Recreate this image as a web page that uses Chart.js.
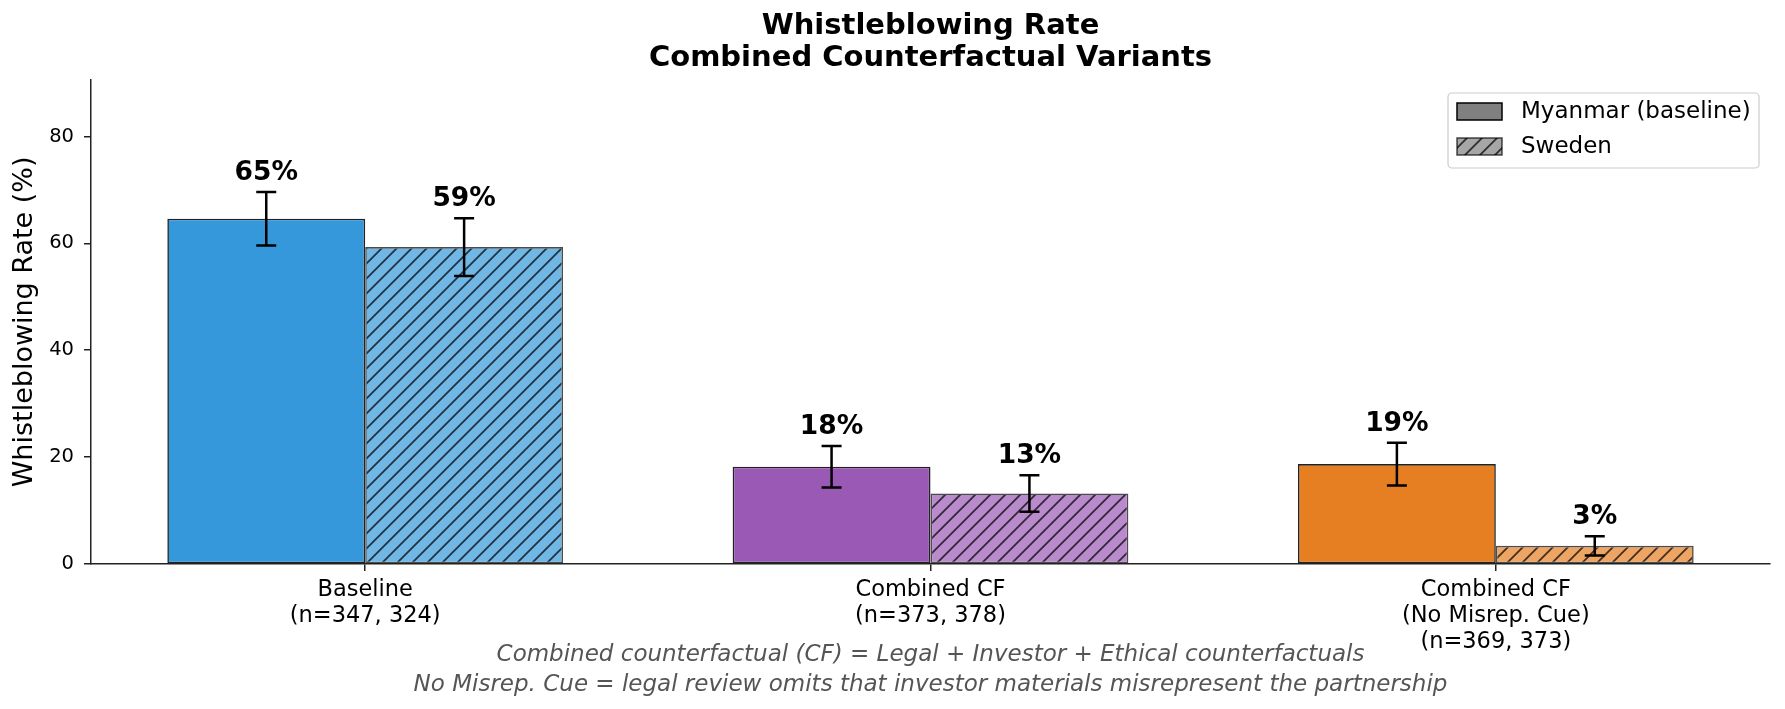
<!DOCTYPE html>
<html>
<head>
<meta charset="utf-8">
<script src="https://cdn.jsdelivr.net/npm/chart.js@4.4.1/dist/chart.umd.min.js"></script>
<style>
html,body{margin:0;padding:0;background:#fff}
#c{display:block}
</style>
</head>
<body>
<canvas id="c" width="1785" height="709"></canvas>
<script>
// data
const categories = [
  ['Baseline', '(n=347, 324)'],
  ['Combined CF', '(n=373, 378)'],
  ['Combined CF', '(No Misrep. Cue)', '(n=369, 373)']
];
const seriesNames = ['Myanmar (baseline)', 'Sweden'];
const myanmarRate = [64.6, 18.2, 18.7];
const swedenRate = [59.3, 13.2, 3.4];
const myanmarErr = [5.0, 3.9, 4.0];
const swedenErr = [5.4, 3.4, 1.8];
const yTicks = [0, 20, 40, 60, 80];
const baseColors = ['#3498db', '#9b59b6', '#e67e22'];
const lightColors = ['#71b7e6', '#b98bcc', '#eea564'];
const footnote = [
  'Combined counterfactual (CF) = Legal + Investor + Ethical counterfactuals',
  'No Misrep. Cue = legal review omits that investor materials misrepresent the partnership'
];

Chart.defaults.font.family = 'DejaVu Sans';
Chart.defaults.color = '#000';

function hatch(bg){
  const s = 15, t = document.createElement('canvas');
  t.width = s; t.height = s;
  const g = t.getContext('2d');
  g.fillStyle = bg; g.fillRect(0, 0, s, s);
  g.strokeStyle = 'rgba(0,0,0,0.72)'; g.lineWidth = 1.8;
  g.beginPath();
  g.moveTo(-2, s + 2); g.lineTo(s + 2, -2);
  g.moveTo(-2, 2); g.lineTo(2, -2);
  g.moveTo(s - 2, s + 2); g.lineTo(s + 2, s - 2);
  g.stroke();
  return document.getElementById('c').getContext('2d').createPattern(t, 'repeat');
}

const xIdx = categories.map((c, i) => i);

// error bars + value labels
const errPlugin = {
  id: 'errs',
  afterDatasetsDraw(chart){
    const ctx = chart.ctx, y = chart.scales.y;
    const errs = [myanmarErr, swedenErr];
    ctx.save();
    chart.data.datasets.forEach((ds, di) => {
      chart.getDatasetMeta(di).data.forEach((bar, i) => {
        const v = ds.data[i].y, e = errs[di][i];
        const top = y.getPixelForValue(v + e), bot = y.getPixelForValue(v - e);
        ctx.strokeStyle = '#000'; ctx.lineWidth = 2.5;
        ctx.beginPath();
        ctx.moveTo(bar.x, top); ctx.lineTo(bar.x, bot);
        ctx.moveTo(bar.x - 10, top); ctx.lineTo(bar.x + 10, top);
        ctx.moveTo(bar.x - 10, bot); ctx.lineTo(bar.x + 10, bot);
        ctx.stroke();
        ctx.fillStyle = '#000';
        ctx.font = 'bold 26.5px "DejaVu Sans"';
        ctx.textAlign = 'center'; ctx.textBaseline = 'alphabetic';
        ctx.fillText(Math.round(v) + '%', bar.x, top - 12);
      });
    });
    ctx.restore();
  }
};

// legend box top-right and footnote
const extraPlugin = {
  id: 'extra',
  afterDraw(chart){
    const ctx = chart.ctx, a = chart.chartArea;
    ctx.save();
    const bx = 1448, by = 93, bw = 311, bh = 75;
    ctx.fillStyle = 'rgba(255,255,255,0.8)';
    ctx.strokeStyle = '#cccccc'; ctx.lineWidth = 1.2;
    ctx.beginPath(); ctx.roundRect(bx, by, bw, bh, 4); ctx.fill(); ctx.stroke();
    const sw = [
      {fill: '#808080', edge: '#000', y: 103},
      {fill: hatch('#a6a6a6'), edge: 'rgba(0,0,0,0.7)', y: 138}
    ];
    sw.forEach((s, i) => {
      ctx.fillStyle = s.fill; ctx.fillRect(1457, s.y, 45, 17);
      ctx.strokeStyle = s.edge; ctx.lineWidth = 1.5; ctx.strokeRect(1457, s.y, 45, 17);
      ctx.fillStyle = '#000'; ctx.font = '23px "DejaVu Sans"';
      ctx.textAlign = 'left'; ctx.textBaseline = 'middle';
      ctx.fillText(seriesNames[i], 1521, s.y + 9);
    });
    ctx.fillStyle = '#555';
    ctx.font = 'italic 23px "DejaVu Sans"';
    ctx.textAlign = 'center'; ctx.textBaseline = 'middle';
    const cx = (a.left + a.right) / 2;
    footnote.forEach((t, i) => ctx.fillText(t, cx, 655 + i * 30));
    ctx.restore();
  }
};

new Chart(document.getElementById('c'), {
  type: 'bar',
  data: {
    datasets: [
      {
        label: seriesNames[0],
        data: xIdx.map(i => ({x: i, y: myanmarRate[i]})),
        backgroundColor: baseColors,
        borderColor: '#222', borderWidth: 1.6, borderSkipped: false
      },
      {
        label: seriesNames[1],
        data: xIdx.map(i => ({x: i, y: swedenRate[i]})),
        backgroundColor: lightColors.map(c => hatch(c)),
        borderColor: 'rgba(0,0,0,0.7)', borderWidth: 1.6, borderSkipped: false
      }
    ]
  },
  options: {
    responsive: false,
    devicePixelRatio: 1,
    animation: false,
    categoryPercentage: 0.7,
    barPercentage: 1.0,
    layout: {padding: {left: 0, right: 15, top: 0, bottom: 0}},
    plugins: {
      legend: {display: false},
      tooltip: {enabled: false},
      title: {
        display: true,
        fullSize: false,
        text: ['Whistleblowing Rate', 'Combined Counterfactual Variants'],
        font: {size: 29, weight: 'bold', lineHeight: 1.1},
        color: '#000',
        padding: {top: 11, bottom: 5}
      }
    },
    scales: {
      x: {
        type: 'linear',
        offset: false,
        min: -0.485, max: 2.485,
        afterBuildTicks: s => { s.ticks = xIdx.map(v => ({value: v})); },
        afterFit: s => { s.height = 145; },
        ticks: {
          includeBounds: false,
          callback: v => categories[v],
          font: {size: 22.5, lineHeight: 1.15},
          color: '#000', padding: 6, maxRotation: 0, autoSkip: false
        },
        grid: {offset: false, drawOnChartArea: false, drawTicks: true, tickLength: 7, color: '#222', lineWidth: 1.5},
        border: {display: true, color: '#222', width: 1.5}
      },
      y: {
        min: 0, max: 90.6,
        afterBuildTicks: s => { s.ticks = yTicks.map(v => ({value: v})); },
        afterFit: s => { s.width = 91; },
        ticks: {includeBounds: false, font: {size: 19.5}, color: '#000', padding: 10},
        grid: {drawOnChartArea: false, drawTicks: true, tickLength: 7, color: '#222', lineWidth: 1.5},
        border: {display: true, color: '#222', width: 1.5},
        title: {display: true, text: 'Whistleblowing Rate (%)', font: {size: 27}, color: '#000', padding: {top: 9, bottom: 0}}
      }
    }
  },
  plugins: [errPlugin, extraPlugin]
});
</script>
</body>
</html>
